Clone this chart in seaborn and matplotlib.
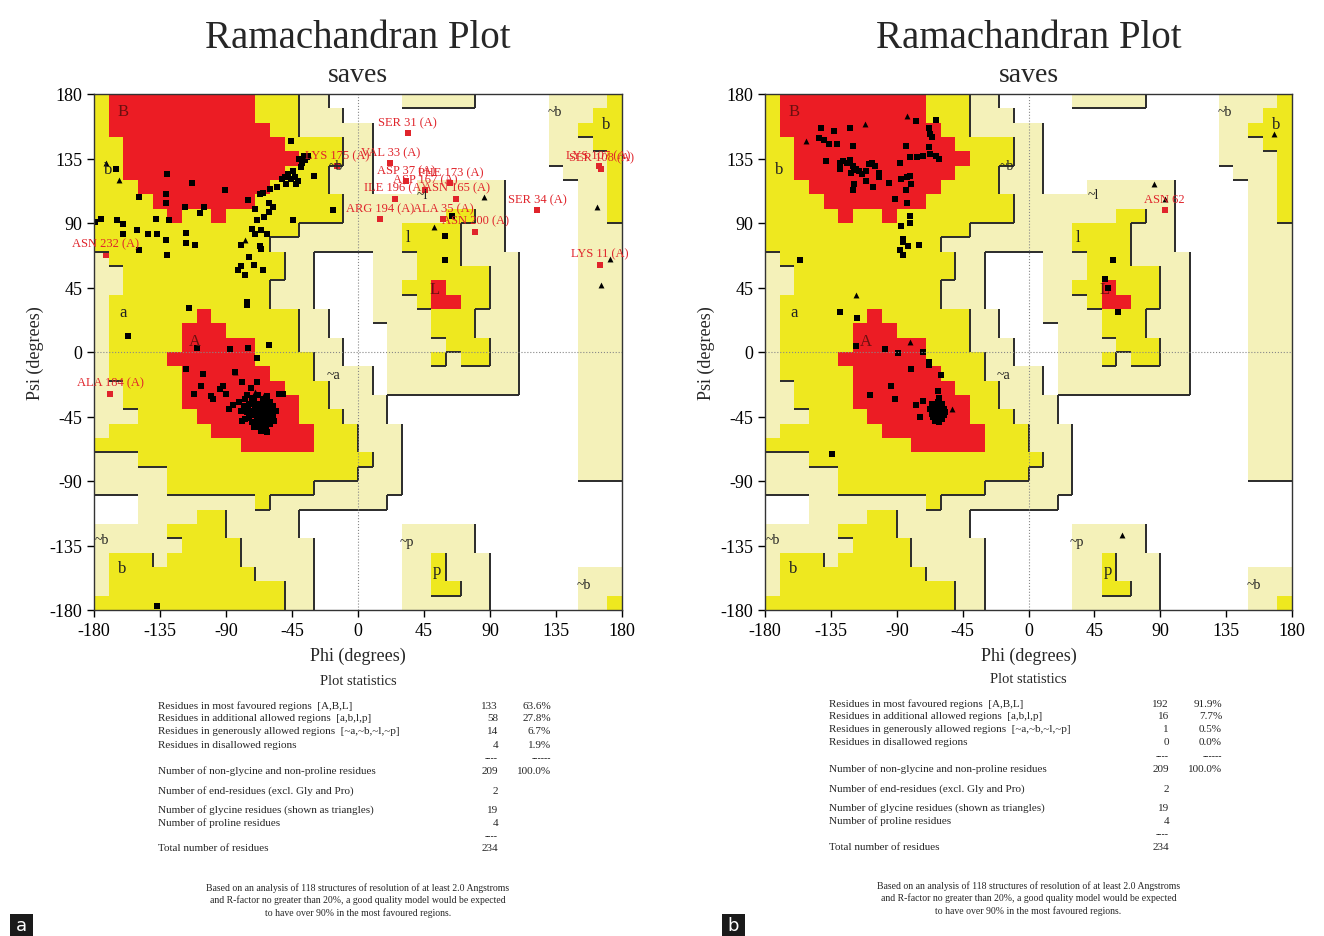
import numpy as np
import pandas as pd
import seaborn as sns
import matplotlib.pyplot as plt
from matplotlib.colors import ListedColormap
from matplotlib.collections import LineCollection
from matplotlib.patches import Rectangle

# region map in 10 degree cells, rows from psi 180 (top) down to -180,
# columns from phi -180 to 180
# . disallowed, g generously allowed, A additional allowed, R most favoured
region_rows = [
    "ARRRRRRRRRRAAAgg.....ggggg.....ggggA",
    "ARRRRRRRRRRAAAggg..............gggAA",
    "ARRRRRRRRRRRAAggggg............ggAAA",
    "AARRRRRRRRRRRAAAAgg............gggAA",
    "AARRRRRRRRRRRRAAAgg............ggggA",
    "AARRRRRRRRRRRAAAggg.............gggA",
    "AAARRRRRRRRRAAAAggg...gggggg.....ggA",
    "AAAARRRRRRRAAAAAAggggggggggg.....ggA",
    "AAAAARAARAAAAAAAAgggggggAAgg.....ggA",
    "AAAAAAAAAAAAAAgggggggAAAAggg.....ggg",
    "AAAAAAAAAAAAgggggggggAAAAggg.....ggg",
    "gAAAAAAAAAAAAgg....gggAAAgggg....ggg",
    "ggAAAAAAAAAAAgg....gggAAAAAgg....ggg",
    "ggAAAAAAAAAAggg....ggAARAAAgg....ggg",
    "gAAAAAAAAAAAggg....gggARRAAgg....ggg",
    "gAAAAAARAAAAAAgg...ggggAAAggg....ggg",
    "gAAAAARRRAAAAAgg....gggAAAggg....ggg",
    "gAAAAARRRRRAAAggg...ggggAAAgg....ggg",
    "gAAAARRRRRRAAAAgg...gggAgAAgg....ggg",
    "gAAAAARRRRRRAAAgggg.ggggggggg....ggg",
    "ggAAAARRRRRRRAAAggg.ggggggggg....ggg",
    "ggAAAARRRRRRRRAAgggg.............ggg",
    "gggAAAARRRRRRRAAAggg.............ggg",
    "gAAAAAAARRRRRRRAAAggg............ggg",
    "AAAAAAAAAARRRRRAAAggg............ggg",
    "gggAAAAAAAAAAAAAAAAgg............ggg",
    "gggggAAAAAAAAAAAAAggg............ggg",
    "gggggAAAAAAAAAAgggggg...............",
    "...ggggggggAgggggggg................",
    "...ggggAAggggg......................",
    "gggggAAAAggggg.......ggggg..........",
    "ggggggAAAAggggg......ggggg..........",
    "gAAAgAAAAAggggg......ggAggg.........",
    "gAAAAAAAAAAgggg......ggAggg......ggg",
    "gAAAAAAAAAAAAgg......ggAAgg......ggg",
    "AAAAAAAAAAAAAgg......gggggg......ggA",
]

region_labels = [
    ("B", -160, 168), ("b", -170, 128), ("a", -160, 28), ("A", -111, 8),
    ("~b", -15, 130), ("~b", 134, 168), ("b", 169, 159), ("~l", 44, 110),
    ("l", 34, 80), ("L", 52, 44), ("~a", -17, -16), ("~b", -175, -131),
    ("b", -161, -151), ("~p", 33, -132), ("p", 54, -152), ("~b", 154, -162),
]

# panel a residues (phi, psi)
res_a = [
    (-165, 128), (-46, 147), (-130, 124), (-113, 118), (-91, 113), (-149, 108),
    (-131, 110), (-131, 104), (-118, 101), (-105, 101), (-108, 97), (-129, 92),
    (-75, 106), (-179, 91), (-175, 93), (-164, 92), (-160, 89), (-160, 82),
    (-151, 85), (-143, 82), (-138, 93), (-137, 82), (-131, 78), (-117, 83),
    (-117, 76), (-111, 75), (-149, 71), (-130, 68), (-70, 100), (-67, 110),
    (-65, 111), (-60, 114), (-61, 104), (-58, 101), (-61, 98), (-64, 94),
    (-69, 92), (-72, 86), (-70, 82), (-66, 85), (-62, 82), (-67, 74), (-66, 72),
    (-80, 75), (-74, 66), (-80, 60), (-71, 61), (-82, 57), (-77, 54), (-65, 57),
    (-76, 35), (-76, 33), (-115, 31), (-157, 11), (-44, 92), (-17, 99),
    (-30, 123), (-44, 126), (-43, 122), (-41, 119), (-46, 121), (-48, 124),
    (-50, 122), (-52, 121), (-40, 135), (-38, 132), (-36, 134), (-34, 137),
    (-39, 129), (-37, 137), (-35, 136), (-42, 117), (-49, 117), (-55, 115),
    (-110, 3), (-87, 2), (-75, 3), (-69, -4), (-61, 5), (-117, -12), (-106, -15),
    (-107, -24), (-112, -29), (-100, -31), (-99, -33), (-84, -14), (-79, -21),
    (-73, -25), (-69, -21), (-92, -24), (-94, -26), (-90, -29), (-85, -37),
    (-79, -48), (-88, -40), (-54, -29), (-51, -29), (-59, -42), (-67, -51),
    (-63, -53), (-137, -177),
    (-76, -30), (-72, -32), (-68, -30), (-65, -33), (-62, -31), (-60, -35),
    (-58, -38), (-63, -38), (-67, -36), (-70, -37), (-74, -36), (-78, -38),
    (-80, -41), (-76, -42), (-72, -41), (-68, -40), (-64, -41), (-61, -42),
    (-58, -45), (-62, -46), (-66, -44), (-70, -44), (-74, -46), (-77, -47),
    (-72, -49), (-68, -48), (-64, -49), (-60, -50), (-67, -52), (-71, -52),
    (-66, -55), (-62, -56), (-69, -39), (-65, -37), (-71, -34), (-73, -43),
    (-66, -47), (-61, -39), (-69, -45), (-75, -39), (-64, -44), (-70, -50),
    (-60, -47), (-67, -42), (-63, -35), (-77, -33), (-81, -35), (-56, -41),
    (-57, -48),
    (64, 95), (59, 81), (59, 64),
]
gly_a = [
    (-163, 120), (-172, 132), (-77, 78), (86, 108), (52, 87), (163, 101),
    (172, 65), (166, 47), (-84, -14), (-64, -30), (-70, -28),
]
flag_a = [
    ("SER 31 (A)", 34, 153), ("VAL 33 (A)", 22, 132), ("LYS 175 (A)", -14, 130),
    ("ASP 37 (A)", 33, 119), ("PHE 173 (A)", 63, 118), ("ASP 167 (A)", 46, 113),
    ("ILE 196 (A)", 25, 107), ("ASN 165 (A)", 67, 107), ("ARG 194 (A)", 15, 93),
    ("ALA 35 (A)", 58, 93), ("ASN 200 (A)", 80, 84), ("SER 34 (A)", 122, 99),
    ("LYS 107 (A)", 164, 130), ("SER 108 (A)", 166, 128), ("LYS 11 (A)", 165, 61),
    ("ASN 232 (A)", -172, 68), ("ALA 184 (A)", -169, -29),
]

# panel b residues (phi, psi)
res_b = [
    (-142, 156), (-133, 154), (-122, 156), (-143, 149), (-140, 148), (-136, 145),
    (-131, 145), (-120, 144), (-77, 161), (-63, 162), (-68, 156), (-67, 152),
    (-66, 150), (-68, 143), (-84, 144), (-81, 136), (-88, 132), (-138, 133),
    (-129, 128), (-129, 132), (-127, 133), (-124, 132), (-122, 134), (-120, 130),
    (-119, 127), (-121, 125), (-118, 128), (-116, 126), (-114, 124), (-111, 126),
    (-109, 131), (-107, 132), (-105, 130), (-102, 125), (-102, 122), (-111, 119),
    (-106, 115), (-119, 117), (-120, 113), (-95, 118), (-87, 121), (-83, 122),
    (-81, 123), (-80, 117), (-84, 113), (-91, 107), (-83, 104), (-76, 136),
    (-72, 137), (-67, 138), (-63, 137), (-61, 135), (-81, 95), (-81, 90),
    (-87, 88), (-86, 79), (-86, 77), (-82, 74), (-88, 71), (-86, 68), (-75, 75),
    (-156, 64), (-129, 28), (-117, 24),
    (-118, 4), (-98, 2), (-89, -1), (-72, 0), (-68, -7), (-68, -9), (-80, -12),
    (-60, -16), (-94, -24), (-62, -27), (-108, -30), (-91, -33), (-72, -34),
    (-77, -37), (-74, -45), (-61, -32), (-134, -71),
    (-66, -36), (-64, -38), (-62, -40), (-60, -42), (-58, -44), (-63, -43),
    (-65, -41), (-67, -40), (-61, -46), (-59, -47), (-63, -46), (-65, -45),
    (-60, -38), (-58, -40), (-62, -35), (-66, -43), (-64, -48), (-61, -49),
    (-59, -36), (-57, -42), (-63, -37), (-60, -44),
    (58, 64), (52, 51), (54, 45), (61, 28),
]
gly_b = [
    (-112, 159), (-152, 147), (-83, 165), (-118, 40), (-81, 7), (-52, -40),
    (86, 117), (93, 107), (168, 152), (64, -128),
]
flag_b = [("ASN 62", 93, 99)]

# plot statistics
stat_names = [
    "Residues in most favoured regions  [A,B,L]",
    "Residues in additional allowed regions  [a,b,l,p]",
    "Residues in generously allowed regions  [~a,~b,~l,~p]",
    "Residues in disallowed regions",
    "Number of non-glycine and non-proline residues",
    "Number of end-residues (excl. Gly and Pro)",
    "Number of glycine residues (shown as triangles)",
    "Number of proline residues",
    "Total number of residues",
]
counts_a = [133, 58, 14, 4, 209, 2, 19, 4, 234]
pct_a = ["63.6%", "27.8%", "6.7%", "1.9%", "100.0%"]
counts_b = [192, 16, 1, 0, 209, 2, 19, 4, 234]
pct_b = ["91.9%", "7.7%", "0.5%", "0.0%", "100.0%"]
footer = ["Based on an analysis of 118 structures of resolution of at least 2.0 Angstroms",
          "and R-factor no greater than 20%, a good quality model would be expected",
          "to have over 90% in the most favoured regions."]

sns.set_theme(style="white")
plt.rcParams['font.family'] = ['Liberation Serif', 'DejaVu Serif']
plt.rcParams['axes.unicode_minus'] = False

W, H = 1324, 937
fig = plt.figure(figsize=(W / 100, H / 100), dpi=100)

level = {'.': 0, 'g': 1, 'A': 2, 'R': 3}
grid = np.array([[level[ch] for ch in row] for row in region_rows])
edges = np.arange(-180, 181, 10)
cmap = ListedColormap(['white', '#F4F1B9', '#EEE81F', '#EC1C24'])
RED = '#E0242B'


def fx(x):
    return x / W


def fy(y):
    return 1 - y / H


def draw_panel(left, right, res, gly, flags, counts, pcts, dy):
    ax = fig.add_axes([fx(left), fy(611), fx(right - left), (611 - 95) / H])
    ax.pcolormesh(edges, edges, grid[::-1], cmap=cmap, vmin=-0.5, vmax=3.5)

    # dark edges where a region steps down to the right or downwards
    segs = []
    for r in range(36):
        for c in range(36):
            v = min(grid[r, c], 2)
            x0 = -180 + 10 * c
            ytop = 180 - 10 * r
            if c < 35 and v > grid[r, c + 1]:
                segs.append([(x0 + 10, ytop - 10), (x0 + 10, ytop)])
            if r < 35 and v > grid[r + 1, c]:
                segs.append([(x0, ytop - 10), (x0 + 10, ytop - 10)])
    ax.add_collection(LineCollection(segs, colors='#2b2b2b', linewidths=1.4))

    ax.axhline(0, color='#888888', ls=':', lw=0.8)
    ax.axvline(0, color='#888888', ls=':', lw=0.8)

    for txt, x, y in region_labels:
        core = txt in ("A", "B", "L")
        ax.text(x, y, txt, ha='center', va='center',
                fontsize=12 if core else (10 if txt.startswith('~') else 12),
                color='#6b1010' if core else '#222222')

    d_res = pd.DataFrame(res, columns=['phi', 'psi'])
    d_gly = pd.DataFrame(gly, columns=['phi', 'psi'])
    d_flag = pd.DataFrame([(x, y) for _, x, y in flags], columns=['phi', 'psi'])
    sns.scatterplot(data=d_res, x='phi', y='psi', marker='s', s=18,
                    color='black', linewidth=0, ax=ax, legend=False)
    sns.scatterplot(data=d_gly, x='phi', y='psi', marker='^', s=18,
                    color='black', linewidth=0, ax=ax, legend=False)
    sns.scatterplot(data=d_flag, x='phi', y='psi', marker='s', s=18,
                    color=RED, linewidth=0, ax=ax, legend=False)
    for name, x, y in flags:
        ax.annotate(name, (x, y), xytext=(0, 3.5), textcoords='offset points',
                    ha='center', va='bottom', fontsize=9, color=RED)

    ax.set_xlim(-180, 180)
    ax.set_ylim(-180, 180)
    ticks = np.arange(-180, 181, 45)
    ax.set_xticks(ticks)
    ax.set_yticks(ticks)
    ax.tick_params(axis='both', direction='out', length=5, width=1,
                   labelsize=13, colors='black', bottom=True, left=True)
    for sp in ax.spines.values():
        sp.set_color('#333333')
        sp.set_linewidth(1.0)
    ax.set_xlabel("Phi (degrees)", fontsize=13, labelpad=6)
    ax.set_ylabel("Psi (degrees)", fontsize=13, labelpad=4)

    cx = (left + right) / 2
    fig.text(fx(cx), fy(38), "Ramachandran Plot", fontsize=28, ha='center', va='center')
    fig.text(fx(cx), fy(75), "saves", fontsize=20, ha='center', va='center')

    # statistics block
    fig.text(fx(cx), fy(681.5 + dy), "Plot statistics", fontsize=10.5,
             ha='center', va='center')
    row_y = [706.5, 718.5, 731.5, 745, 771.5, 791.5, 810.5, 823.5, 849]
    xl, xn, xp = left + 64, left + 404, left + 457
    for i, name in enumerate(stat_names):
        y = fy(row_y[i] + dy)
        fig.text(fx(xl), y, name, fontsize=8, ha='left', va='center')
        fig.text(fx(xn), y, str(counts[i]), fontsize=8, ha='right', va='center')
        if i < 5:
            fig.text(fx(xp), y, pcts[i], fontsize=8, ha='right', va='center')
    fig.text(fx(xn), fy(759 + dy), "----", fontsize=7, ha='right', va='center')
    fig.text(fx(xp), fy(759 + dy), "------", fontsize=7, ha='right', va='center')
    fig.text(fx(xn), fy(836.5 + dy), "----", fontsize=7, ha='right', va='center')
    for k, line in enumerate(footer):
        fig.text(fx(cx), fy(888 + 12.5 * k + dy), line, fontsize=7,
                 ha='center', va='center')
    return ax


ax_a = draw_panel(94, 622, res_a, gly_a, flag_a, counts_a, pct_a, 0)
ax_b = draw_panel(765, 1292, res_b, gly_b, flag_b, counts_b, pct_b, -2)

# panel tags
for x0, tag in [(10, "a"), (722, "b")]:
    fig.patches.append(Rectangle((fx(x0), 0), fx(23), 22 / H, transform=fig.transFigure,
                                 facecolor='#1a1a1a', edgecolor='none'))
    fig.text(fx(x0 + 11.5), fy(926), tag, fontsize=13, color='white',
             ha='center', va='center', family='DejaVu Sans')

plt.savefig("out.png", dpi=100)
